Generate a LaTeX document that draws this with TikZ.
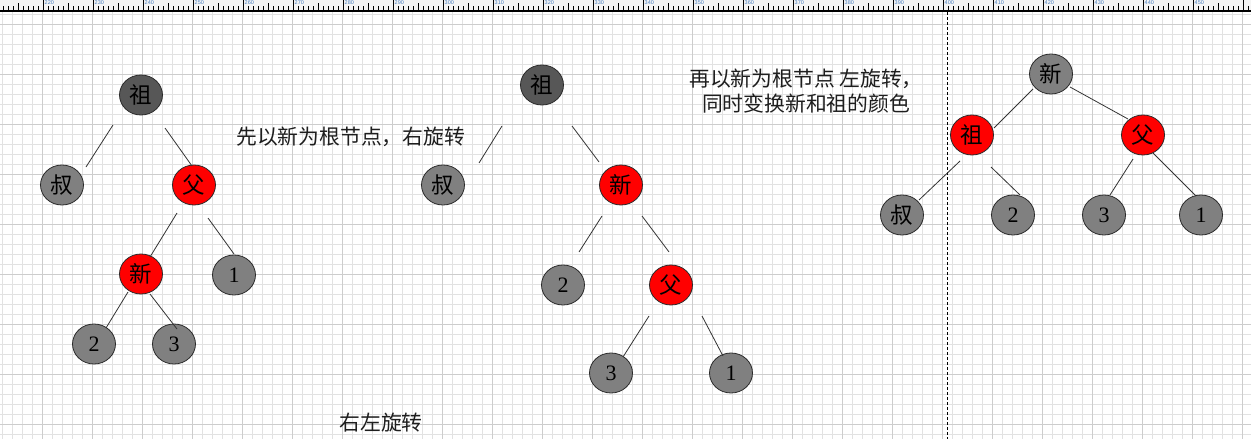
\documentclass[tikz,border=0pt]{standalone}
\usepackage{fontspec}
\setmainfont{Liberation Serif}
\newfontfamily\cjk{Noto Sans CJK SC}
\newfontfamily\rulerfont{Liberation Sans}
\usetikzlibrary{shapes.geometric}
\definecolor{nodered}{HTML}{FF0000}
\definecolor{nodegray}{HTML}{808080}
\definecolor{nodedark}{HTML}{575757}
\definecolor{nodeborder}{HTML}{2A2A2A}
\definecolor{linecol}{HTML}{333333}
\definecolor{captioncol}{HTML}{1E1E1E}
\definecolor{minorgridcol}{HTML}{E2E2E2}
\definecolor{majorgridcol}{HTML}{CDCDCD}
\definecolor{rulerbgcol}{HTML}{F4F4F4}
\definecolor{rulertextcol}{HTML}{4A7FC0}
\tikzset{
  tnode/.style={ellipse, draw=nodeborder, line width=0.8pt, minimum width=43pt,
    minimum height=40pt, inner sep=0pt, text=black, font=\cjk\fontsize{22.5}{24}\selectfont},
  rednode/.style={tnode, fill=nodered},
  graynode/.style={tnode, fill=nodegray},
  darknode/.style={tnode, fill=nodedark},
  numnode/.style={graynode, font=\fontsize{22}{24}\selectfont},
  treeline/.style={line width=0.8pt, draw=linecol},
  caption/.style={font=\cjk\fontsize{20.8}{25}\selectfont, inner sep=0pt, text=captioncol},
  minorgrid/.style={draw=minorgridcol, line width=0.8pt},
  majorgrid/.style={draw=majorgridcol, line width=0.8pt},
  rulertick/.style={draw=black, line width=0.7pt},
  rulerlabel/.style={font=\rulerfont\fontsize{5.5}{6}\selectfont, text=rulertextcol, inner sep=0pt},
  divider/.style={draw=black, line width=0.9pt, dash pattern=on 3pt off 2pt},
}
\begin{document}
\begin{tikzpicture}[x=1pt,y=-1pt]
\useasboundingbox (0,0) rectangle (1251,439);
\clip (0,0) rectangle (1251,439);
\fill[white] (0,0) rectangle (1251,439);
% grid
\foreach \i in {0,...,124} \draw[minorgrid] (2.7+10*\i,11) -- (2.7+10*\i,439);
\foreach \i in {0,...,43} \draw[minorgrid] (0,14+10*\i) -- (1251,14+10*\i);
\foreach \i in {0,...,24} \draw[majorgrid] (42.7+50*\i,11) -- (42.7+50*\i,439);
\foreach \i in {0,...,8} \draw[majorgrid] (0,24+50*\i) -- (1251,24+50*\i);
% ruler
\fill[rulerbgcol] (0,0) rectangle (1251,11);
\foreach \n in {220,230,...,450} \node[rulerlabel, anchor=north west] at ({5*\n-1057+1.5},0.5) {\n};
\foreach \i in {0,...,249} \draw[rulertick] (3+5*\i,6) -- (3+5*\i,11);
\foreach \i in {0,...,24} \draw[rulertick] (18+50*\i,3) -- (18+50*\i,11);
\foreach \i in {0,...,25} \draw[rulertick] (-7+50*\i,0) -- (-7+50*\i,11);
\draw[black, line width=1.3pt] (0,11) -- (1251,11);
% divider
\coordinate (divtop) at (947,12);
\coordinate (divbot) at (947,439);
\draw[divider] (divtop) -- (divbot);

% ---- tree 1
\node[darknode] (zuA) at (141,95) {祖};
\node[graynode] (shuA) at (62,185) {叔};
\node[rednode] (fuA) at (194,185) {父};
\node[rednode] (xinA) at (141,274) {新};
\node[numnode] (oneA) at (234,275) {1};
\node[numnode] (twoA) at (94,344) {2};
\node[numnode] (threeA) at (174,344) {3};
\draw[treeline] ([shift={(-28,30)}]zuA.center) -- ([shift={(24,-18)}]shuA.center);
\draw[treeline] ([shift={(24,33)}]zuA.center) -- ([shift={(-2,-19)}]fuA.center);
\draw[treeline] ([shift={(-17,28)}]fuA.center) -- ([shift={(9,-17)}]xinA.center);
\draw[treeline] ([shift={(14,33)}]fuA.center) -- ([shift={(0,-21)}]oneA.center);
\draw[treeline] ([shift={(-13,18)}]xinA.center) -- ([shift={(12,-16)}]twoA.center);
\draw[treeline] ([shift={(9,20)}]xinA.center) -- ([shift={(3,-15)}]threeA.center);

% ---- tree 2
\node[darknode] (zuB) at (542,85) {祖};
\node[graynode] (shuB) at (443,185) {叔};
\node[rednode] (xinB) at (621,185) {新};
\node[numnode] (twoB) at (563,285) {2};
\node[rednode] (fuB) at (671,285) {父};
\node[numnode] (threeB) at (611,373) {3};
\node[numnode] (oneB) at (731,373) {1};
\draw[treeline] ([shift={(-40,41)}]zuB.center) -- ([shift={(36,-22)}]shuB.center);
\draw[treeline] ([shift={(30,41)}]zuB.center) -- ([shift={(-22,-23)}]xinB.center);
\draw[treeline] ([shift={(-19,31)}]xinB.center) -- ([shift={(16,-33)}]twoB.center);
\draw[treeline] ([shift={(21,31)}]xinB.center) -- ([shift={(-2,-33)}]fuB.center);
\draw[treeline] ([shift={(-22,31)}]fuB.center) -- ([shift={(12,-16)}]threeB.center);
\draw[treeline] ([shift={(31,31)}]fuB.center) -- ([shift={(-8,-17)}]oneB.center);

% ---- tree 3
\node[graynode] (xinC) at (1051,74) {新};
\node[rednode] (zuC) at (972,135) {祖};
\node[rednode] (fuC) at (1143,135) {父};
\node[graynode] (shuC) at (902,215) {叔};
\node[numnode] (twoC) at (1013,215) {2};
\node[numnode] (threeC) at (1104,215) {3};
\node[numnode] (oneC) at (1201,215) {1};
\draw[treeline] ([shift={(-18,15)}]xinC.center) -- ([shift={(22,-7)}]zuC.center);
\draw[treeline] ([shift={(19,13)}]xinC.center) -- ([shift={(-15,-16)}]fuC.center);
\draw[treeline] ([shift={(-12,26)}]zuC.center) -- ([shift={(17,-15)}]shuC.center);
\draw[treeline] ([shift={(19,32)}]zuC.center) -- ([shift={(7,-20)}]twoC.center);
\draw[treeline] ([shift={(-10,24)}]fuC.center) -- ([shift={(6,-20)}]threeC.center);
\draw[treeline] ([shift={(10,18)}]fuC.center) -- ([shift={(-5,-19)}]oneC.center);

% ---- captions
\node[caption, anchor=west] (capA) at (236,136.5) {先以新为根节点，右旋转};
\node[caption, align=center] (capB) at (806,91.5) {再以新为根节点 左旋转，\\同时变换新和祖的颜色};
\node[caption] (capC) at (381,423) {右左旋转};
\end{tikzpicture}
\end{document}
